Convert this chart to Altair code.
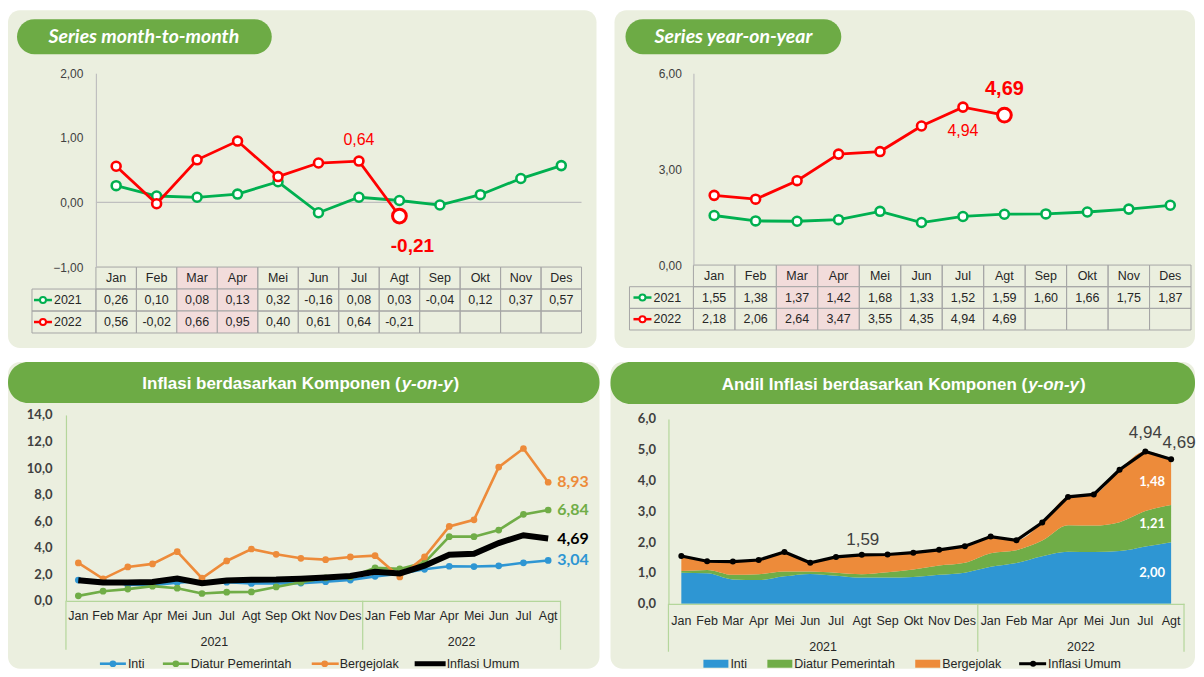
import altair as alt
import pandas as pd

# ---------------- data ----------------
months = ["Jan", "Feb", "Mar", "Apr", "Mei", "Jun", "Jul", "Agt", "Sep", "Okt", "Nov", "Des"]
years = ["2021", "2022"]
highlight_months = ["Mar", "Apr"]

mtm_2021 = [0.26, 0.10, 0.08, 0.13, 0.32, -0.16, 0.08, 0.03, -0.04, 0.12, 0.37, 0.57]
mtm_2022 = [0.56, -0.02, 0.66, 0.95, 0.40, 0.61, 0.64, -0.21]
yoy_2021 = [1.55, 1.38, 1.37, 1.42, 1.68, 1.33, 1.52, 1.59, 1.60, 1.66, 1.75, 1.87]
yoy_2022 = [2.18, 2.06, 2.64, 3.47, 3.55, 4.35, 4.94, 4.69]

period_month = months + months[:8]
period_year = ["2021"] * 12 + ["2022"] * 8

components = ["Inti", "Diatur Pemerintah", "Bergejolak", "Inflasi Umum"]
inti_yoy = [1.56, 1.53, 1.21, 1.18, 1.37, 1.49, 1.40, 1.31, 1.30, 1.33, 1.44, 1.56,
            1.84, 2.03, 2.37, 2.60, 2.58, 2.63, 2.86, 3.04]
diatur_yoy = [0.37, 0.72, 0.88, 1.10, 0.95, 0.55, 0.65, 0.67, 1.04, 1.40, 1.72, 1.79,
              2.48, 2.40, 2.88, 4.83, 4.83, 5.33, 6.51, 6.84]
bergejolak_yoy = [2.85, 1.65, 2.55, 2.78, 3.70, 1.70, 3.00, 3.90, 3.50, 3.20, 3.10, 3.30,
                  3.40, 1.80, 3.30, 5.60, 6.10, 10.07, 11.47, 8.93]
umum_yoy = [1.55, 1.38, 1.37, 1.42, 1.68, 1.33, 1.52, 1.59, 1.60, 1.66, 1.75, 1.87,
            2.18, 2.06, 2.64, 3.47, 3.55, 4.35, 4.94, 4.69]

andil_inti = [1.01, 0.99, 0.79, 0.77, 0.89, 0.97, 0.91, 0.85, 0.85, 0.87, 0.94, 1.01,
              1.20, 1.32, 1.54, 1.69, 1.68, 1.71, 1.86, 2.00]
andil_diatur = [0.05, 0.11, 0.15, 0.19, 0.16, 0.08, 0.10, 0.11, 0.17, 0.24, 0.30, 0.32,
                0.44, 0.42, 0.51, 0.86, 0.86, 0.94, 1.15, 1.21]
andil_bergejolak = [0.49, 0.28, 0.43, 0.46, 0.63, 0.28, 0.51, 0.63, 0.58, 0.55, 0.51, 0.54,
                    0.54, 0.32, 0.59, 0.92, 1.01, 1.70, 1.93, 1.48]

# ---------------- style ----------------
BG = "#EBEFDF"
PILL = "#6DAB45"
GRIDC = "#A6A6A6"
PINK = "#F2DCDB"
GREEN21 = "#00B050"
RED22 = "#FF0000"
C_INTI = "#2E96D3"
C_DIATUR = "#70AD47"
C_BERG = "#ED8B3A"
AXIS_GREEN = "#B4D69B"
TXT = "#262626"
FONT_N = "Liberation Sans Narrow, Arial Narrow, Liberation Sans, Arial, sans-serif"
FONT_T = "Lato, Open Sans, sans-serif"
CLEAR = "rgba(0,0,0,0)"

ONE = pd.DataFrame({"d": [0]})

BOT_H = 311
LEG_Y = 306


def fmt(v, d=2):
    return f"{v:.{d}f}".replace(".", ",")


def box(x, x2, y, y2, fill, r=0, stroke=None):
    kw = dict(fill=fill, cornerRadius=r)
    if stroke:
        kw.update(stroke=stroke, strokeWidth=1)
    return alt.Chart(ONE).mark_rect(**kw).encode(
        x=alt.value(x), x2=alt.value(x2), y=alt.value(y), y2=alt.value(y2))


def hrule(x, x2, y, color, w):
    return alt.Chart(ONE).mark_rule(color=color, strokeWidth=w).encode(
        x=alt.value(x), x2=alt.value(x2), y=alt.value(y))


def pt(x, y, color, size, fill=None, sw=2):
    kw = dict(shape="circle", filled=True, size=size, opacity=1)
    if fill:
        kw.update(fill=fill, stroke=color, strokeWidth=sw)
    else:
        kw.update(color=color)
    return alt.Chart(ONE).mark_point(**kw).encode(x=alt.value(x), y=alt.value(y))


def txt(x, y, s, size, color=TXT, font=FONT_N, weight="normal", style="normal", align="center"):
    return alt.Chart(ONE).mark_text(
        text=s, fontSize=size, color=color, font=font, fontWeight=weight,
        fontStyle=style, align=align, baseline="middle").encode(x=alt.value(x), y=alt.value(y))


# ---------------- top panels ----------------
def top_panel(W, H, bg, pill, title, title_x, cols, rows_rng, lab_x, sym,
              ydom, yrng, yvals, offset, lpad, s21, s22, annots, zero_line):
    col0, col1 = cols
    r0, r1 = rows_rng
    rows = ["hdr"] + years
    bx = alt.Scale(type="band", domain=months, range=[col0, col1], paddingInner=0, paddingOuter=0)
    px = alt.Scale(type="point", domain=months, range=[col0, col1], padding=0.5)
    by = alt.Scale(type="band", domain=rows, range=[r0, r1], paddingInner=0, paddingOuter=0)
    py = alt.Scale(type="point", domain=rows, range=[r0, r1], padding=0.5)
    ys = alt.Scale(domain=ydom, range=yrng, nice=False, zero=False)
    yaxis = alt.Axis(orient="left", offset=-offset, values=yvals, zindex=1,
                     labelExpr="replace(format(datum.value, '.2f'), '.', ',')",
                     ticks=False, domainColor="#BFBFBF", domainWidth=1.2, labelFont=FONT_N,
                     labelFontSize=12, labelColor="#404040", labelPadding=lpad, title=None, grid=False)

    layers = [box(*bg, BG, 12), box(*pill, PILL, 18),
              txt(title_x, (pill[2] + pill[3]) / 2, title, 19.5, "white", FONT_T, "bold", "italic")]

    cells = pd.DataFrame([{"row": r, "m": m, "fill": PINK if m in highlight_months else CLEAR}
                          for r in rows for m in months])
    layers.append(alt.Chart(cells).mark_rect(stroke=GRIDC, strokeWidth=1).encode(
        x=alt.X("m:N", scale=bx, axis=None), y=alt.Y("row:N", scale=by, axis=None),
        fill=alt.Fill("fill:N", scale=None)))
    lab = pd.DataFrame({"row": years})
    layers.append(alt.Chart(lab).mark_rect(fill=CLEAR, stroke=GRIDC, strokeWidth=1).encode(
        x=alt.value(lab_x), x2=alt.value(col0), y=alt.Y("row:N", scale=by, axis=None)))

    hdr = pd.DataFrame({"m": months, "row": ["hdr"] * 12})
    layers.append(alt.Chart(hdr).mark_text(fontSize=12.5, font=FONT_N, color=TXT).encode(
        x=alt.X("m:N", scale=px, axis=None), y=alt.Y("row:N", scale=py, axis=None), text="m:N"))
    vals = pd.DataFrame([{"m": months[i], "row": yr, "t": fmt(v)}
                         for yr, ser in zip(years, [s21, s22]) for i, v in enumerate(ser)])
    layers.append(alt.Chart(vals).mark_text(fontSize=12.5, font=FONT_N, color=TXT).encode(
        x=alt.X("m:N", scale=px, axis=None), y=alt.Y("row:N", scale=py, axis=None), text="t:N"))

    for yr, color in zip(years, [GREEN21, RED22]):
        d = pd.DataFrame({"row": [yr]})
        yenc = alt.Y("row:N", scale=py, axis=None)
        layers.append(alt.Chart(d).mark_rule(color=color, strokeWidth=2.5).encode(
            x=alt.value(sym[0]), x2=alt.value(sym[1]), y=yenc))
        layers.append(alt.Chart(d).mark_point(shape="circle", filled=True, fill="white", stroke=color,
                                              strokeWidth=2, size=36, opacity=1).encode(
            x=alt.value(sym[2]), y=yenc))
        layers.append(alt.Chart(d).mark_text(align="left", fontSize=12.5, font=FONT_N, color=TXT).encode(
            x=alt.value(sym[3]), y=yenc, text="row:N"))

    if zero_line:
        z = pd.DataFrame({"v": [0.0]})
        layers.append(alt.Chart(z).mark_rule(color="#BFBFBF", strokeWidth=1.2).encode(
            y=alt.Y("v:Q", scale=ys, axis=None), x=alt.value(col0), x2=alt.value(col1)))

    first = True
    for ser, color in [(s21, GREEN21), (s22, RED22)]:
        d = pd.DataFrame({"m": months[:len(ser)], "v": ser})
        xenc = alt.X("m:N", scale=px, axis=None, sort=months)
        layers.append(alt.Chart(d).mark_line(color=color, strokeWidth=2.8).encode(
            x=xenc, y=alt.Y("v:Q", scale=ys, axis=yaxis if first else None)))
        first = False
        layers.append(alt.Chart(d.iloc[:-1] if color == RED22 else d).mark_point(
            shape="circle", filled=True, fill="white", stroke=color, strokeWidth=2.6,
            size=80, opacity=1).encode(x=xenc, y=alt.Y("v:Q", scale=ys, axis=None)))
    last = pd.DataFrame({"m": [months[len(s22) - 1]], "v": [s22[-1]]})
    layers.append(alt.Chart(last).mark_point(
        shape="circle", filled=True, fill="white", stroke=RED22, strokeWidth=3,
        size=190, opacity=1).encode(x=alt.X("m:N", scale=px, axis=None),
                                    y=alt.Y("v:Q", scale=ys, axis=None)))

    for m, v, size, weight, dx, dy in annots:
        d = pd.DataFrame({"m": [m], "v": [v], "t": [fmt(v)]})
        layers.append(alt.Chart(d).mark_text(fontSize=size, fontWeight=weight, font=FONT_N,
                                             color=RED22, dx=dx, dy=dy).encode(
            x=alt.X("m:N", scale=px, axis=None), y=alt.Y("v:Q", scale=ys, axis=None), text="t:N"))

    return alt.layer(*layers).resolve_scale(x="independent", y="independent").properties(width=W, height=H)


tl = top_panel(592, 340, (0, 589, 2, 340), (9, 264, 11, 46), "Series month-to-month", 136,
               (88, 574), (259, 325), 24, (26, 44, 35, 46),
               [-1, 2], [259, 65], [-1.0, 0.0, 1.0, 2.0], 88, 13,
               mtm_2021, mtm_2022,
               [("Jul", mtm_2022[6], 16, "normal", 0, -21),
                ("Agt", mtm_2022[7], 19, "bold", 13, 30)], True)

tr = top_panel(582, 340, (1, 582, 2, 340), (12, 228, 11, 46), "Series year-on-year", 120,
               (80, 578), (257, 322), 16, (20, 38, 29, 40),
               [0, 6], [257, 65], [0.0, 3.0, 6.0], 80, 12,
               yoy_2021, yoy_2022,
               [("Agt", yoy_2022[7], 20, "bold", 0, -26),
                ("Jul", yoy_2022[6], 16, "normal", 0, 24)], False)

# ---------------- bottom panels ----------------
keys = [f"{y}-{m}" for y, m in zip(period_year, period_month)]


def bottom_frame(W, bg, bar, title_a, split_x, close_x, title_y, x0, x1, ybase, sep_bottom, year_y,
                 xoff, xpad):
    bx = alt.Scale(type="band", domain=keys, range=[x0, x1], paddingInner=0, paddingOuter=0)
    px = alt.Scale(type="point", domain=keys, range=[x0, x1], padding=0.5)
    xaxis = alt.Axis(orient="bottom", offset=-xoff, labelExpr="split(datum.value, '-')[1]",
                     labelAngle=0, ticks=False, domainColor=AXIS_GREEN, domainWidth=1.2, zindex=1,
                     labelFont=FONT_N, labelFontSize=12.5, labelColor=TXT, labelPadding=xpad,
                     title=None, grid=False, labelOverlap=False)
    layers = [box(*bg, BG, 12), box(*bar, PILL, 20),
              txt(split_x, title_y, title_a, 17, "white", FONT_N, "bold", align="right"),
              txt(split_x + 1, title_y, "y-on-y", 17, "white", FONT_N, "bold", "italic", "left"),
              txt(close_x, title_y, ")", 17, "white", FONT_N, "bold", align="left")]
    sep = pd.DataFrame({"k": [keys[0], keys[12]]})
    layers.append(alt.Chart(sep).mark_rule(color=AXIS_GREEN, strokeWidth=1.2).encode(
        x=alt.X("k:N", scale=bx, bandPosition=0, axis=xaxis),
        y=alt.value(ybase), y2=alt.value(sep_bottom)))
    sep2 = pd.DataFrame({"k": [keys[-1]]})
    layers.append(alt.Chart(sep2).mark_rule(color=AXIS_GREEN, strokeWidth=1.2).encode(
        x=alt.X("k:N", scale=bx, bandPosition=1, axis=None),
        y=alt.value(ybase), y2=alt.value(sep_bottom)))
    yrs = pd.DataFrame({"k": [keys[6], keys[16]], "t": years})
    layers.append(alt.Chart(yrs).mark_text(fontSize=12.5, font=FONT_N, color=TXT).encode(
        x=alt.X("k:N", scale=bx, bandPosition=0, axis=None), y=alt.value(year_y), text="t:N"))
    return layers, px


def yaxis_bottom(offset, vals, pad):
    return alt.Axis(orient="left", offset=-offset, values=vals, zindex=1,
                    labelExpr="replace(format(datum.value, '.1f'), '.', ',')",
                    ticks=False, domainColor=AXIS_GREEN, domainWidth=1.2, labelFont=FONT_T,
                    labelFontSize=13, labelFontWeight="bold", labelColor="#404040",
                    labelPadding=pad, title=None, grid=False)


# bottom-left
bl_layers, bl_px = bottom_frame(593, (0, 592, 4, BOT_H), (0, 592, 4, 45),
                                "Inflasi berdasarkan Komponen (", 393, 446, 26,
                                58, 553, 243, 292, 284, BOT_H - 243, 9)
bl_ys = alt.Scale(domain=[0, 14], range=[243, 57], nice=False, zero=False)
bl_xenc = alt.X("k:N", scale=bl_px, axis=None, sort=keys)
first = True
for ser, color in [(inti_yoy, C_INTI), (diatur_yoy, C_DIATUR), (bergejolak_yoy, C_BERG)]:
    d = pd.DataFrame({"k": keys, "v": ser})
    bl_layers.append(alt.Chart(d).mark_line(color=color, strokeWidth=2.6).encode(
        x=bl_xenc, y=alt.Y("v:Q", scale=bl_ys,
                           axis=yaxis_bottom(58, [float(v) for v in range(0, 15, 2)], 14) if first else None)))
    first = False
    bl_layers.append(alt.Chart(d).mark_point(shape="circle", filled=True, size=45, opacity=1,
                                             color=color).encode(
        x=bl_xenc, y=alt.Y("v:Q", scale=bl_ys, axis=None)))
d_umum = pd.DataFrame({"k": keys, "v": umum_yoy})
bl_layers.append(alt.Chart(d_umum).mark_line(color="black", strokeWidth=6).encode(
    x=bl_xenc, y=alt.Y("v:Q", scale=bl_ys, axis=None)))
for ser, color in [(inti_yoy, C_INTI), (diatur_yoy, C_DIATUR), (bergejolak_yoy, C_BERG), (umum_yoy, "black")]:
    d = pd.DataFrame({"k": [keys[-1]], "v": [ser[-1]], "t": [fmt(ser[-1])]})
    bl_layers.append(alt.Chart(d).mark_text(align="left", dx=9, fontSize=16, fontWeight="bold",
                                            font=FONT_T, color=color).encode(
        x=alt.X("k:N", scale=bl_px, axis=None), y=alt.Y("v:Q", scale=bl_ys, axis=None), text="t:N"))
# legend
for (l0, l1, dx, tx, color, name) in [(92, 118, 105, 120, C_INTI, components[0]),
                                       (155, 181, 168, 183, C_DIATUR, components[1]),
                                       (304, 331, 317, 332, C_BERG, components[2])]:
    bl_layers += [hrule(l0, l1, LEG_Y, color, 2.6), pt(dx, LEG_Y, color, 45),
                  txt(tx, LEG_Y, name, 12.5, align="left")]
bl_layers += [hrule(407, 438, LEG_Y, "black", 5), txt(439, LEG_Y, components[3], 12.5, align="left")]
bl = alt.layer(*bl_layers).resolve_scale(x="independent", y="independent").properties(width=593, height=BOT_H)

# bottom-right
br_layers, br_px = bottom_frame(586, (1, 586, 4, BOT_H), (1, 586, 4, 46),
                                "Andil Inflasi berdasarkan Komponen (", 418, 471, 27,
                                59, 575, 246, 294, 289, BOT_H - 246, 11)
br_ys = alt.Scale(domain=[0, 6], range=[246, 61], nice=False, zero=False)
br_xenc = alt.X("k:N", scale=br_px, axis=None, sort=keys)
area_df = pd.DataFrame({
    "k": keys * 3,
    "comp": [components[0]] * 20 + [components[1]] * 20 + [components[2]] * 20,
    "v": andil_inti + andil_diatur + andil_bergejolak,
    "ord": [0] * 20 + [1] * 20 + [2] * 20,
})
br_layers.append(alt.Chart(area_df).mark_area(interpolate="monotone", opacity=1).encode(
    x=br_xenc,
    y=alt.Y("v:Q", stack="zero", scale=br_ys,
            axis=yaxis_bottom(59, [float(v) for v in range(0, 7)], 13)),
    color=alt.Color("comp:N", scale=alt.Scale(domain=components[:3], range=[C_INTI, C_DIATUR, C_BERG]),
                    legend=None),
    order=alt.Order("ord:Q")))
br_layers.append(alt.Chart(d_umum).mark_line(color="black", strokeWidth=3.2).encode(
    x=br_xenc, y=alt.Y("v:Q", scale=br_ys, axis=None)))
br_layers.append(alt.Chart(d_umum).mark_point(shape="circle", filled=True, size=36, opacity=1,
                                              color="black").encode(
    x=br_xenc, y=alt.Y("v:Q", scale=br_ys, axis=None)))
for idx, dx, dy in [(7, 1, -15), (18, 0, -19), (19, 8, -16)]:
    d = pd.DataFrame({"k": [keys[idx]], "v": [umum_yoy[idx]], "t": [fmt(umum_yoy[idx])]})
    br_layers.append(alt.Chart(d).mark_text(dx=dx, dy=dy, fontSize=17, font=FONT_N, color="#404040").encode(
        x=alt.X("k:N", scale=br_px, axis=None), y=alt.Y("v:Q", scale=br_ys, axis=None), text="t:N"))
mid_pos = [andil_inti[-1] / 2,
           andil_inti[-1] + andil_diatur[-1] / 2,
           andil_inti[-1] + andil_diatur[-1] + andil_bergejolak[-1] / 2]
wl = pd.DataFrame({"k": [keys[-1]] * 3, "v": mid_pos,
                   "t": [fmt(andil_inti[-1]), fmt(andil_diatur[-1]), fmt(andil_bergejolak[-1])]})
br_layers.append(alt.Chart(wl).mark_text(dx=-19, fontSize=13, fontWeight="bold", font=FONT_T,
                                         color="white").encode(
    x=alt.X("k:N", scale=br_px, axis=None), y=alt.Y("v:Q", scale=br_ys, axis=None), text="t:N"))
for (r0, r1, tx, color, name) in [(94, 119, 121, C_INTI, components[0]),
                                  (158, 183, 185, C_DIATUR, components[1]),
                                  (306, 331, 333, C_BERG, components[2])]:
    br_layers += [box(r0, r1, LEG_Y - 4, LEG_Y + 4, color), txt(tx, LEG_Y, name, 12.5, align="left")]
br_layers += [hrule(410, 437, LEG_Y, "black", 3), pt(424, LEG_Y, "black", 36),
              txt(439, LEG_Y, components[3], 12.5, align="left")]
br = alt.layer(*br_layers).resolve_scale(x="independent", y="independent").properties(width=586, height=BOT_H)

top = alt.hconcat(tl, tr, spacing=14)
bottom = alt.hconcat(bl, br, spacing=9)
chart = alt.vconcat(top, bottom, spacing=10).properties(padding=0, background="white").configure_view(stroke=None)

chart.save("out.html", embed_options={"renderer": "svg", "actions": False})
